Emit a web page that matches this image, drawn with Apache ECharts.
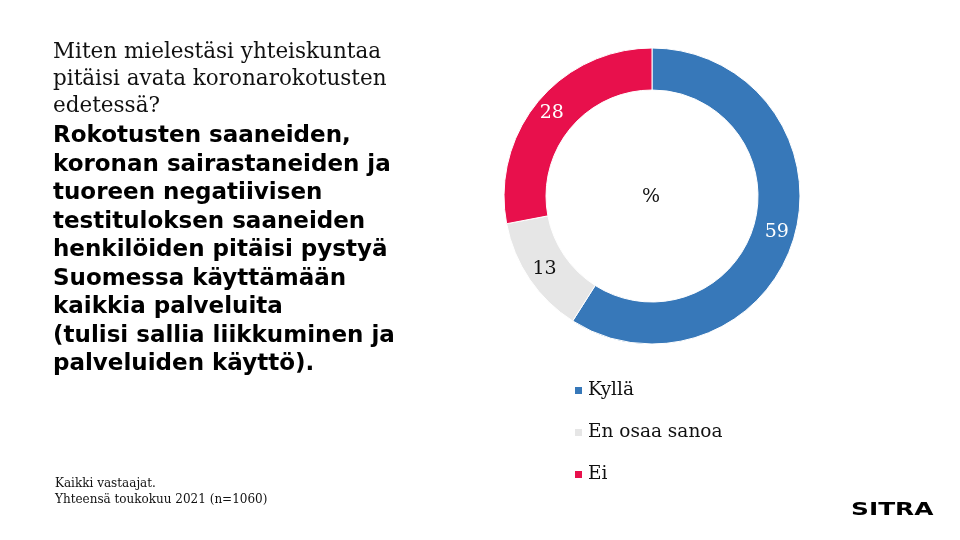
<!DOCTYPE html>
<html><head><meta charset="utf-8">
<script src="https://cdn.jsdelivr.net/npm/echarts@6/dist/echarts.min.js"></script>
<style>html,body{margin:0;padding:0;background:#fff}#c{width:960px;height:540px}</style>
</head><body><div id="c"></div>
<script>
const categories = ['Kyllä', 'En osaa sanoa', 'Ei'];
const values = [59, 13, 28];
const colors = ['#3778b9', '#e6e6e6', '#e8104c'];
const labelColors = ['#ffffff', '#111111', '#ffffff'];
const titleLines = ['Miten mielestäsi yhteiskuntaa', 'pitäisi avata koronarokotusten', 'edetessä?'];
const boldLines = ['Rokotusten saaneiden,', 'koronan sairastaneiden ja', 'tuoreen negatiivisen', 'testituloksen saaneiden', 'henkilöiden pitäisi pystyä', 'Suomessa käyttämään', 'kaikkia palveluita', '(tulisi sallia liikkuminen ja', 'palveluiden käyttö).'];
const footLines = ['Kaikki vastaajat.', 'Yhteensä toukokuu 2021 (n=1060)'];

const chart = echarts.init(document.getElementById('c'));
const serif = 'DejaVu Serif';
chart.setOption({
  animation: false,
  backgroundColor: '#ffffff',
  legend: {
    orient: 'vertical', left: 568, top: 376, itemGap: 23,
    itemWidth: 9, itemHeight: 9, icon: 'rect',
    data: categories,
    textStyle: { fontFamily: serif, fontSize: 18.5, color: '#111' }
  },
  graphic: [
    { type: 'text', left: 53, top: 39, style: { text: titleLines.join('\n'), font: '21.5px "DejaVu Serif"', lineHeight: 27, fill: '#111' } },
    { type: 'text', left: 53, top: 122, style: { text: boldLines.join('\n'), font: 'bold 23px "DejaVu Sans"', lineHeight: 28.5, fill: '#000' } },
    { type: 'text', left: 55, top: 476, style: { text: footLines.join('\n'), font: '12px "DejaVu Serif"', lineHeight: 16, fill: '#111' } },
    { type: 'text', x: 651, y: 197, style: { text: '%', font: '19px "DejaVu Serif"', fill: '#111', align: 'center', verticalAlign: 'middle' } },
    { type: 'text', x: 851, y: 510, scaleX: 1.38, style: { text: 'SITRA', font: 'bold 18px "DejaVu Sans"', fill: '#000', align: 'left', verticalAlign: 'middle' } }
  ],
  series: [{
    type: 'pie',
    center: [652, 196],
    radius: [106, 148],
    startAngle: 90,
    clockwise: true,
    avoidLabelOverlap: false,
    itemStyle: { borderColor: '#fff', borderWidth: 1 },
    label: { show: true, position: 'inside', fontFamily: serif, fontSize: 19, formatter: '{c}' },
    labelLine: { show: false },
    data: categories.map((n, i) => ({ name: n, value: values[i], itemStyle: { color: colors[i] }, label: { color: labelColors[i] } }))
  }]
});
</script></body></html>
